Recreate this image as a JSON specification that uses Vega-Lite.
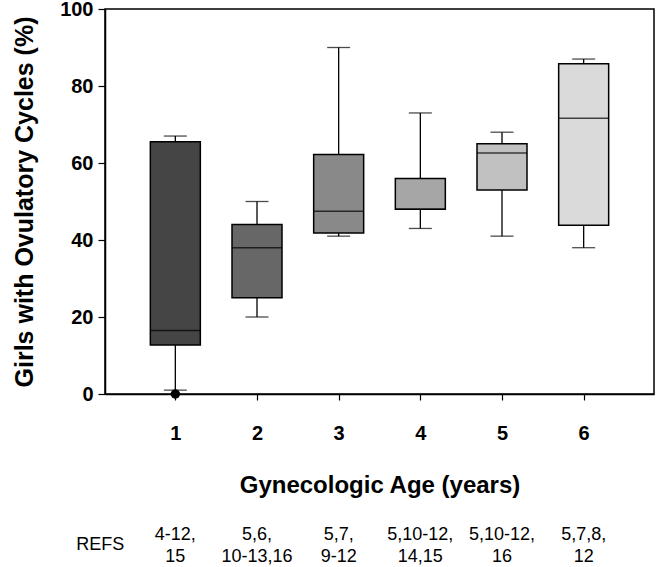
{
  "$schema": "https://vega.github.io/schema/vega-lite/v6.json",
  "width": 549,
  "height": 385,
  "autosize": {"type": "none"},
  "padding": {"left": 105, "top": 9, "right": 2, "bottom": 173},
  "background": "white",
  "config": {
    "font": "Liberation Sans",
    "view": {"stroke": "black", "strokeWidth": 1.5},
    "axis": {"grid": false, "domainColor": "black", "tickColor": "black", "domainWidth": 1.5, "tickWidth": 1.2, "labelColor": "black", "titleColor": "black", "labelFont": "Liberation Sans", "titleFont": "Liberation Sans"}
  },
  "datasets": {
    "stats": [
      {"age": 1, "min": 1, "q1": 12.7, "median": 16.5, "q3": 65.5, "max": 67, "refs": "4-12,\n15"},
      {"age": 2, "min": 20, "q1": 25, "median": 38, "q3": 44, "max": 50, "refs": "5,6,\n10-13,16"},
      {"age": 3, "min": 41, "q1": 41.8, "median": 47.5, "q3": 62.2, "max": 90, "refs": "5,7,\n9-12"},
      {"age": 4, "min": 43, "q1": 48, "median": 48, "q3": 56, "max": 73, "refs": "5,10-12,\n14,15"},
      {"age": 5, "min": 41, "q1": 53, "median": 62.6, "q3": 65, "max": 68, "refs": "5,10-12,\n16"},
      {"age": 6, "min": 38, "q1": 43.8, "median": 71.6, "q3": 85.8, "max": 87, "refs": "5,7,8,\n12"}
    ],
    "outliers": [
      {"age": 1, "value": 0}
    ],
    "label": [
      {"pos": 0.08, "text": "REFS"}
    ]
  },
  "layer": [
    {
      "data": {"name": "stats"},
      "mark": {"type": "rule", "color": "black", "strokeWidth": 1.3},
      "encoding": {
        "x": {"field": "age", "type": "quantitative", "scale": {"domain": [0.2, 6.8], "nice": false, "zero": false},
          "axis": {"values": [1, 2, 3, 4, 5, 6], "title": "Gynecologic Age (years)", "titleFontSize": 24, "titleFontWeight": "bold", "titlePadding": 30, "labelFontSize": 20, "labelFontWeight": "bold", "labelPadding": 23, "tickSize": 6, "format": "d"}},
        "y": {"field": "min", "type": "quantitative", "scale": {"domain": [0, 100], "nice": false},
          "axis": {"values": [0, 20, 40, 60, 80, 100], "title": "Girls with Ovulatory Cycles (%)", "titleFontSize": 25, "titleFontWeight": "bold", "titlePadding": 22, "labelFontSize": 20, "labelFontWeight": "bold", "labelPadding": 5, "tickSize": 7}},
        "y2": {"field": "max"}
      }
    },
    {
      "data": {"name": "stats"},
      "mark": {"type": "tick", "orient": "horizontal", "color": "black", "size": 23, "thickness": 1.3},
      "encoding": {
        "x": {"field": "age", "type": "quantitative"},
        "y": {"field": "min", "type": "quantitative"}
      }
    },
    {
      "data": {"name": "stats"},
      "mark": {"type": "tick", "orient": "horizontal", "color": "black", "size": 23, "thickness": 1.3},
      "encoding": {
        "x": {"field": "age", "type": "quantitative"},
        "y": {"field": "max", "type": "quantitative"}
      }
    },
    {
      "data": {"name": "stats"},
      "mark": {"type": "bar", "size": 50, "stroke": "black", "strokeWidth": 1.5},
      "encoding": {
        "x": {"field": "age", "type": "quantitative"},
        "y": {"field": "q1", "type": "quantitative"},
        "y2": {"field": "q3"},
        "color": {"field": "age", "type": "ordinal", "legend": null,
          "scale": {"range": ["#454545", "#676767", "#898989", "#a6a6a6", "#c1c1c1", "#dadada"]}}
      }
    },
    {
      "data": {"name": "stats"},
      "mark": {"type": "tick", "orient": "horizontal", "color": "black", "size": 50, "thickness": 1.5},
      "encoding": {
        "x": {"field": "age", "type": "quantitative"},
        "y": {"field": "median", "type": "quantitative"}
      }
    },
    {
      "data": {"name": "outliers"},
      "mark": {"type": "point", "filled": true, "color": "black", "size": 90, "opacity": 1},
      "encoding": {
        "x": {"field": "age", "type": "quantitative"},
        "y": {"field": "value", "type": "quantitative"}
      }
    },
    {
      "data": {"name": "stats"},
      "mark": {"type": "text", "font": "Liberation Sans", "fontSize": 18, "lineBreak": "\n", "lineHeight": 22, "align": "center", "baseline": "middle", "dy": 141, "color": "black"},
      "encoding": {
        "x": {"field": "age", "type": "quantitative"},
        "y": {"datum": 0, "type": "quantitative"},
        "text": {"field": "refs", "type": "nominal"}
      }
    },
    {
      "data": {"name": "label"},
      "mark": {"type": "text", "font": "Liberation Sans", "fontSize": 18, "align": "center", "baseline": "middle", "dy": 151, "color": "black"},
      "encoding": {
        "x": {"field": "pos", "type": "quantitative"},
        "y": {"datum": 0, "type": "quantitative"},
        "text": {"field": "text", "type": "nominal"}
      }
    }
  ]
}
